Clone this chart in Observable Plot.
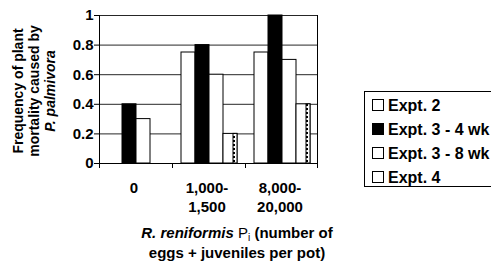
<!DOCTYPE html>
<html><head><meta charset="utf-8">
<script src="https://cdn.jsdelivr.net/npm/d3@7"></script>
<script src="https://cdn.jsdelivr.net/npm/@observablehq/plot@0.6"></script>
<style>
body{margin:0;background:#fff;}
svg{font-family:"Liberation Sans",Arial,sans-serif;}
</style>
</head><body>
<svg width="0" height="0" style="position:absolute">
  <defs>
    <pattern id="dash" patternUnits="userSpaceOnUse" width="6" height="4">
      <rect width="6" height="4" fill="#fff"></rect>
      <rect x="1" y="0" width="4" height="2" fill="#000"></rect>
    </pattern>
  </defs>
</svg>
<div id="chart"></div>
<script>
const categories = ["0", "1,000-1,500", "8,000-20,000"];
const categoryLines = [["0"], ["1,000-", "1,500"], ["8,000-", "20,000"]];
const series = ["Expt. 2", "Expt. 3 - 4 wk", "Expt. 3 - 8 wk", "Expt. 4"];
const expt2 = [0, 0.75, 0.75];
const expt3wk4 = [0.4, 0.8, 1.0];
const expt3wk8 = [0.3, 0.6, 0.7];
const expt4 = [0, 0.2, 0.4];
const yTicks = [0, 0.2, 0.4, 0.6, 0.8, 1];
const seriesColors = ["#ffffff", "#000000", "#ffffff", "#ffffff"];
const yTitle = ["Frequency of plant", "mortality caused by", "P. palmivora"];

const valuesBySeries = [expt2, expt3wk4, expt3wk8, expt4];
const data = [];
categories.forEach((c, i) => series.forEach((s, j) => data.push({cat: c, series: s, value: valuesBySeries[j][i]})));

const chart = Plot.plot({
  width: 491, height: 264,
  marginLeft: 98, marginRight: 173, marginTop: 15, marginBottom: 101,
  style: {fontFamily: "Liberation Sans, Arial, sans-serif", background: "#fff", color: "#000", overflow: "visible"},
  fx: {domain: categories, padding: 0, axis: null},
  x: {domain: series, paddingInner: 0, paddingOuter: 0.45, axis: null},
  y: {domain: [0, 1], axis: null},
  color: {domain: series, range: seriesColors},
  marks: [
    Plot.gridY(yTicks.filter(d => d > 0), {stroke: "#000", strokeOpacity: 0.85}),
    Plot.ruleY([0], {stroke: "#000"}),
    Plot.barY(data, {fx: "cat", x: "series", y: "value", fill: "series", stroke: "#000", strokeWidth: 1}),
    Plot.barY(data.filter(d => d.series === "Expt. 4" && d.value > 0), {fx: "cat", x: "series", y: "value", fill: "url(#dash)", stroke: "#000", insetLeft: 10}),
    Plot.axisY(yTicks, {tickFormat: d => String(d), fontSize: 15, fontWeight: "bold", tickSize: 5, tickPadding: 1, stroke: "#000", label: null})
  ]
});
document.getElementById("chart").appendChild(chart);

const svg = d3.select(chart);
const fxS = chart.scale("fx"), yS = chart.scale("y");
const y0 = yS.apply(0), y1 = yS.apply(1);
const left = fxS.apply(categories[0]);
const right = fxS.apply(categories[categories.length - 1]) + fxS.bandwidth;
const g = svg.append("g").attr("stroke", "#000").attr("fill", "none");
g.append("line").attr("x1", left + 0.5).attr("x2", left + 0.5).attr("y1", y1).attr("y2", y0);
g.append("line").attr("x1", right - 0.5).attr("x2", right - 0.5).attr("y1", y1).attr("y2", y0);
const bounds = categories.map(c => fxS.apply(c)).concat([right]);
bounds.forEach((b, i) => {
  const bx = i === 0 ? b + 0.5 : i === bounds.length - 1 ? b - 0.5 : Math.round(b) + 0.5;
  g.append("line").attr("x1", bx).attr("x2", bx).attr("y1", y0).attr("y2", y0 + 5);
});

// category labels
const tg = svg.append("g").attr("font-size", 15).attr("font-weight", "bold").attr("text-anchor", "middle").attr("fill", "#000");
categories.forEach((c, i) => {
  const cx = fxS.apply(c) + fxS.bandwidth / 2 - 1.5;
  const t = tg.append("text");
  categoryLines[i].forEach((line, k) => t.append("tspan").attr("x", cx).attr("y", 193 + k * 19).text(line));
});

// x title
const xt = svg.append("text").attr("text-anchor", "middle").attr("font-size", 15).attr("font-weight", "bold").attr("fill", "#000");
const l1 = xt.append("tspan").attr("x", 237).attr("y", 238);
l1.append("tspan").attr("font-style", "italic").text("R. reniformis ");
l1.append("tspan").attr("font-weight", "normal").text("P");
l1.append("tspan").attr("font-weight", "normal").attr("font-size", 10).attr("dy", 3).text("i");
l1.append("tspan").attr("dy", -3).text(" (number of");
xt.append("tspan").attr("x", 237).attr("y", 258).text("eggs + juveniles per pot)");

// y title
yTitle.forEach((line, k) => {
  svg.append("text").attr("transform", `translate(${23 + k * 16},91) rotate(-90)`)
    .attr("text-anchor", "middle").attr("font-size", 14).attr("font-weight", "bold")
    .attr("font-style", k === 2 ? "italic" : "normal").attr("fill", "#000").text(line);
});

// legend
const lg = svg.append("g").attr("text-anchor", "start");
lg.append("rect").attr("x", 364.5).attr("y", 91.5).attr("width", 140).attr("height", 95).attr("fill", "#fff").attr("stroke", "#000");
series.forEach((s, i) => {
  const cy = 105 + i * 24;
  lg.append("rect").attr("x", 372.5).attr("y", cy - 5.5).attr("width", 11).attr("height", 11)
    .attr("fill", seriesColors[i]).attr("stroke", "#000");
  lg.append("text").attr("x", 388).attr("y", cy + 6).attr("font-size", 16).attr("font-weight", "bold").attr("fill", "#000").text(s);
});
</script>
</body></html>
